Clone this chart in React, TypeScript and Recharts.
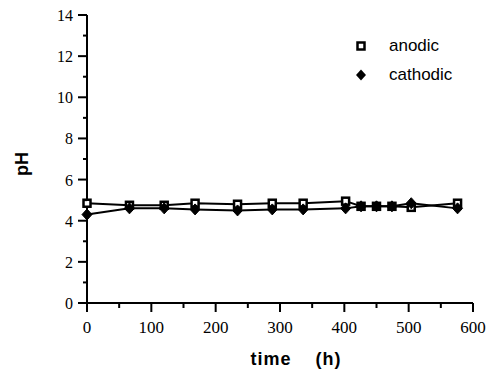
import { LineChart, Line, XAxis, YAxis, Legend } from 'recharts'

const hours = [0, 66, 120, 168, 234, 288, 336, 402, 426, 450, 474, 504, 576]
const anodic = [4.85, 4.75, 4.75, 4.85, 4.8, 4.85, 4.85, 4.95, 4.7, 4.7, 4.7, 4.65, 4.85]
const cathodic = [4.3, 4.6, 4.6, 4.55, 4.5, 4.55, 4.55, 4.6, 4.7, 4.7, 4.7, 4.85, 4.6]
const xTicks = [0, 50, 100, 150, 200, 250, 300, 350, 400, 450, 500, 550, 600]
const yTicks = [0, 1, 2, 3, 4, 5, 6, 7, 8, 9, 10, 11, 12, 13, 14]

const data = hours.map((t, i) => ({ t, anodic: anodic[i], cathodic: cathodic[i] }))

const serif = '"Liberation Serif", "Times New Roman", serif'
const sans = '"Liberation Sans", Arial, sans-serif'

function XTick(props: any) {
  const { x, y, payload } = props
  const major = payload.value % 100 === 0
  return (
    <g>
      <line x1={x} x2={x} y1={y} y2={y + (major ? 9 : 5)} stroke="#000" strokeWidth={2} />
      {major && (
        <text x={x} y={y + 30} textAnchor="middle" fontFamily={serif} fontSize={17} fill="#000">
          {payload.value}
        </text>
      )}
    </g>
  )
}

function YTick(props: any) {
  const { x, y, payload } = props
  const major = payload.value % 2 === 0
  return (
    <g>
      <line x1={x} x2={x - (major ? 9 : 4)} y1={y} y2={y} stroke="#000" strokeWidth={2} />
      {major && (
        <text x={x - 14} y={y + 6} textAnchor="end" fontFamily={serif} fontSize={16} fill="#000">
          {payload.value}
        </text>
      )}
    </g>
  )
}

function XLabel(props: any) {
  const { viewBox } = props
  const cx = viewBox.x + viewBox.width / 2 + 16
  return (
    <text x={cx} y={viewBox.y + 62} textAnchor="middle" fontFamily={sans} fontWeight="bold" fontSize={18} letterSpacing={1} fill="#000">
      {'time\u00a0\u00a0\u00a0\u00a0(h)'}
    </text>
  )
}

function YLabel() {
  return (
    <text x={22} y={164} textAnchor="middle" dominantBaseline="central" transform="rotate(-90 22 164)" fontFamily={sans} fontWeight="bold" fontSize={18} fill="#000">
      pH
    </text>
  )
}

function SquareDot(props: any) {
  const { cx, cy } = props
  return <rect x={cx - 3.5} y={cy - 3.5} width={7} height={7} fill="#fff" stroke="#000" strokeWidth={2.5} />
}

function DiamondDot(props: any) {
  const { cx, cy } = props
  return <polygon points={`${cx},${cy - 5.5} ${cx + 5},${cy} ${cx},${cy + 5.5} ${cx - 5},${cy}`} fill="#000" stroke="#000" strokeWidth={1} />
}

function LegendBox() {
  const row = { display: 'flex', alignItems: 'center', height: 29 }
  return (
    <div style={{ fontFamily: sans, fontSize: 17, color: '#000' }}>
      <div style={row}>
        <svg width={33} height={16}>
          <rect x={1.5} y={4.5} width={7} height={7} fill="#fff" stroke="#000" strokeWidth={2.5} />
        </svg>
        <span>anodic</span>
      </div>
      <div style={row}>
        <svg width={33} height={16}>
          <polygon points="5,2.5 10,8 5,13.5 0,8" fill="#000" />
        </svg>
        <span>cathodic</span>
      </div>
    </div>
  )
}

export default function App() {
  return (
    <div style={{ position: 'absolute', left: 0, top: 0, width: 487, height: 372, background: '#fff' }}>
      <LineChart width={487} height={372} data={data} margin={{ top: 15, right: 14, bottom: 0, left: 0 }}>
        <XAxis
          dataKey="t"
          type="number"
          domain={[0, 600]}
          ticks={xTicks}
          interval={0}
          height={69}
          tickSize={0}
          tickMargin={0}
          tickLine={false}
          axisLine={{ stroke: '#000', strokeWidth: 2 }}
          tick={<XTick />}
          label={<XLabel />}
        />
        <YAxis
          type="number"
          domain={[0, 14]}
          ticks={yTicks}
          interval={0}
          width={87}
          tickSize={0}
          tickMargin={0}
          tickLine={false}
          axisLine={{ stroke: '#000', strokeWidth: 2 }}
          tick={<YTick />}
          label={<YLabel />}
        />
        <Legend
          layout="vertical"
          verticalAlign="middle"
          align="center"
          content={<LegendBox />}
          wrapperStyle={{ position: 'absolute', left: 356, top: 31, width: 120 }}
        />
        <Line
          type="linear"
          dataKey="anodic"
          stroke="#000"
          strokeWidth={2}
          dot={<SquareDot />}
          isAnimationActive={false}
        />
        <Line
          type="linear"
          dataKey="cathodic"
          stroke="#000"
          strokeWidth={2}
          dot={<DiamondDot />}
          isAnimationActive={false}
        />
      </LineChart>
    </div>
  )
}
